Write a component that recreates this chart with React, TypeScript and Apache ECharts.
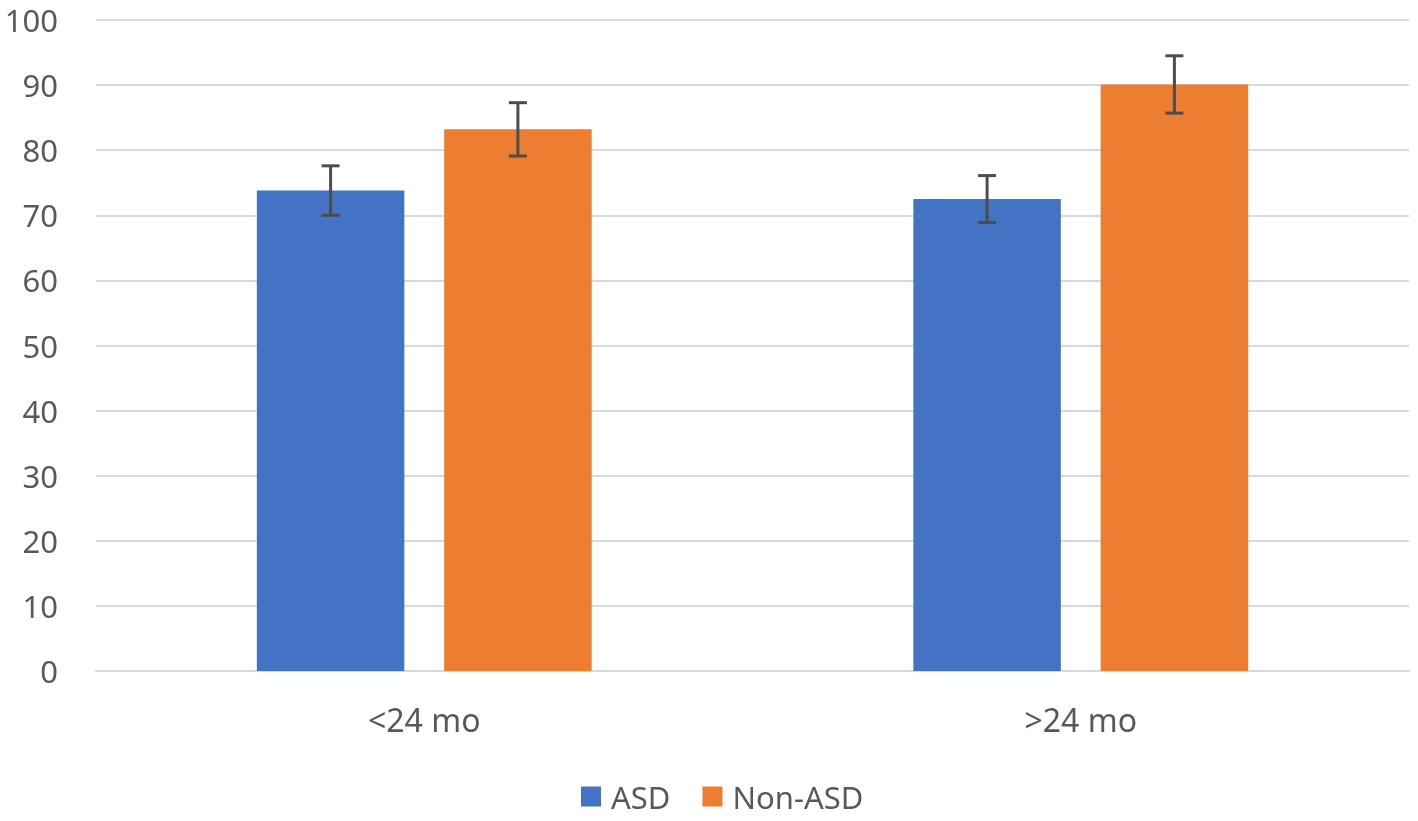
import * as echarts from 'echarts';
import { useEffect, useRef } from 'react';

const categories = ['<24 mo', '>24 mo'];
const seriesNames = ['ASD', 'Non-ASD'];
const asdValues = [73.8, 72.5];
const nonAsdValues = [83.2, 90.1];
const asdErrors = [3.8, 3.6];
const nonAsdErrors = [4.1, 4.4];
const yTicks = { min: 0, max: 100, interval: 10 };

const BAR_GAP = '27%';
const BAR_CATEGORY_GAP = '49%';
const TEXT = '#595959';

export default function App() {
  const chartRef = useRef<HTMLDivElement>(null);

  useEffect(() => {
    if (!chartRef.current) return;
    const chart = echarts.init(chartRef.current, null, { renderer: 'svg' });

    // error bar drawn over the n-th bar of each category group
    const errorSeries = (values: number[], errors: number[], index: number) => ({
      type: 'custom',
      name: seriesNames[index] + ' error',
      z: 10,
      silent: true,
      data: values.map((v, i) => [i, v - errors[i], v + errors[i]]),
      renderItem: (params: any, api: any) => {
        const cat = api.value(0);
        const low = api.coord([cat, api.value(1)]);
        const high = api.coord([cat, api.value(2)]);
        const layout = api.barLayout({
          barGap: BAR_GAP,
          barCategoryGap: BAR_CATEGORY_GAP,
          count: 2
        });
        const x = low[0] + layout[index].offsetCenter;
        const half = 9;
        const style = { stroke: '#4d4d4d', lineWidth: 3, fill: 'none' };
        return {
          type: 'group',
          children: [
            { type: 'line', shape: { x1: x, y1: high[1], x2: x, y2: low[1] }, style },
            { type: 'line', shape: { x1: x - half, y1: high[1], x2: x + half, y2: high[1] }, style },
            { type: 'line', shape: { x1: x - half, y1: low[1], x2: x + half, y2: low[1] }, style }
          ]
        };
      }
    });

    chart.setOption({
      animation: false,
      textStyle: { fontFamily: '"Noto Sans", sans-serif' },
      color: ['#4472C4', '#ED7D31'],
      grid: { left: 96, right: 9, top: 20, bottom: 150, containLabel: false },
      legend: {
        data: seriesNames,
        bottom: 4,
        left: 576,
        icon: 'rect',
        itemWidth: 20,
        itemHeight: 20,
        itemGap: 32,
        textStyle: { fontSize: 31, color: TEXT, padding: [0, 0, 0, 5] }
      },
      xAxis: {
        type: 'category',
        data: categories,
        axisLine: { lineStyle: { color: '#d9d9d9', width: 2 } },
        axisTick: { show: false },
        axisLabel: { fontSize: 32, color: TEXT, margin: 32 }
      },
      yAxis: {
        type: 'value',
        min: yTicks.min,
        max: yTicks.max,
        interval: yTicks.interval,
        axisLine: { show: false },
        axisTick: { show: false },
        axisLabel: { fontSize: 31, color: TEXT, margin: 38 },
        splitLine: { lineStyle: { color: '#d9d9d9', width: 2 } }
      },
      series: [
        {
          type: 'bar',
          name: seriesNames[0],
          data: asdValues,
          barGap: BAR_GAP,
          barCategoryGap: BAR_CATEGORY_GAP
        },
        {
          type: 'bar',
          name: seriesNames[1],
          data: nonAsdValues,
          barGap: BAR_GAP,
          barCategoryGap: BAR_CATEGORY_GAP
        },
        errorSeries(asdValues, asdErrors, 0),
        errorSeries(nonAsdValues, nonAsdErrors, 1)
      ]
    });

    return () => chart.dispose();
  }, []);

  return (
    <div
      ref={chartRef}
      style={{ position: 'fixed', left: 0, top: 0, width: '100vw', height: '100vh' }}
    />
  );
}
